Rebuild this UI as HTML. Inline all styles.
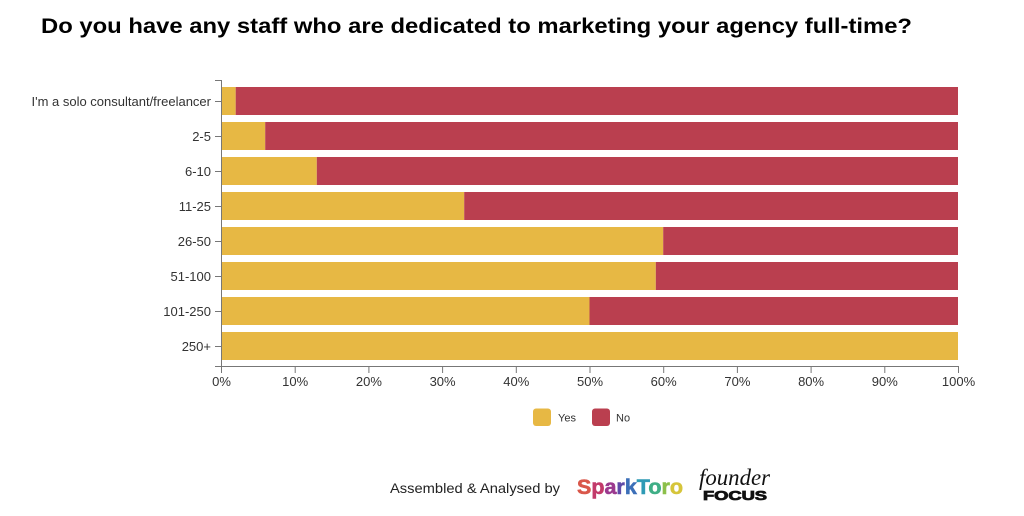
<!DOCTYPE html>
<html><head><meta charset="utf-8"><style>
html,body{margin:0;padding:0;background:#fff;}
svg{display:block;}
</style></head><body>
<svg width="1024" height="516" viewBox="0 0 1024 516" xmlns="http://www.w3.org/2000/svg" font-family="Liberation Sans, Arial, sans-serif">
<rect width="1024" height="516" fill="#fff"/>
<text x="41" y="33" font-size="21" font-weight="bold" fill="#000" textLength="871" lengthAdjust="spacingAndGlyphs">Do you have any staff who are dedicated to marketing your agency full-time?</text>

<g>
<rect x="221" y="87" width="14.7" height="28" fill="#E7B844"/><rect x="235.7" y="87" width="722.3" height="28" fill="#BA3F4F"/>
<rect x="221" y="122" width="44.2" height="28" fill="#E7B844"/><rect x="265.2" y="122" width="692.8" height="28" fill="#BA3F4F"/>
<rect x="221" y="157" width="95.8" height="28" fill="#E7B844"/><rect x="316.8" y="157" width="641.2" height="28" fill="#BA3F4F"/>
<rect x="221" y="192" width="243.2" height="28" fill="#E7B844"/><rect x="464.2" y="192" width="493.8" height="28" fill="#BA3F4F"/>
<rect x="221" y="227" width="442.2" height="28" fill="#E7B844"/><rect x="663.2" y="227" width="294.8" height="28" fill="#BA3F4F"/>
<rect x="221" y="262" width="434.8" height="28" fill="#E7B844"/><rect x="655.8" y="262" width="302.2" height="28" fill="#BA3F4F"/>
<rect x="221" y="297" width="368.5" height="28" fill="#E7B844"/><rect x="589.5" y="297" width="368.5" height="28" fill="#BA3F4F"/>
<rect x="221" y="332" width="737" height="28" fill="#E7B844"/>
</g>

<g stroke="#777" stroke-width="1" fill="none">
<path d="M215,80.5 H221.5 V366.5 H215"/>
<path d="M221.5,373 V366.5 H958.5 V373"/>
<path d="M215,101.5H221M215,136.5H221M215,171.5H221M215,206.5H221M215,241.5H221M215,276.5H221M215,311.5H221M215,346.5H221"/>
<path d="M295.2,367V373M368.9,367V373M442.6,367V373M516.3,367V373M590,367V373M663.7,367V373M737.4,367V373M811.1,367V373M884.8,367V373"/>
</g>

<g font-size="13" fill="#333" text-anchor="end">
<text x="211" y="106">I'm a solo consultant/freelancer</text>
<text x="211" y="141">2-5</text>
<text x="211" y="176">6-10</text>
<text x="211" y="211">11-25</text>
<text x="211" y="246">26-50</text>
<text x="211" y="281">51-100</text>
<text x="211" y="316">101-250</text>
<text x="211" y="351">250+</text>
</g>
<g font-size="13" fill="#333" text-anchor="middle">
<text x="221.5" y="386">0%</text>
<text x="295.2" y="386">10%</text>
<text x="368.9" y="386">20%</text>
<text x="442.6" y="386">30%</text>
<text x="516.3" y="386">40%</text>
<text x="590" y="386">50%</text>
<text x="663.7" y="386">60%</text>
<text x="737.4" y="386">70%</text>
<text x="811.1" y="386">80%</text>
<text x="884.8" y="386">90%</text>
<text x="958.5" y="386">100%</text>
</g>

<rect x="533" y="408.5" width="18" height="17.5" rx="3" fill="#E7B844"/>
<text x="558" y="421.5" font-size="11" fill="#333">Yes</text>
<rect x="592" y="408.5" width="18" height="17.5" rx="3" fill="#BA3F4F"/>
<text x="616" y="421.5" font-size="11" fill="#333">No</text>

<text x="390" y="493" font-size="14" fill="#222" textLength="170" lengthAdjust="spacingAndGlyphs">Assembled &amp; Analysed by</text>

<text x="577" y="494" font-size="21" font-weight="bold" textLength="106" lengthAdjust="spacingAndGlyphs" stroke-width="0.6"><tspan fill="#D9574A" stroke="#D9574A">S</tspan><tspan fill="#C23A6A" stroke="#C23A6A">p</tspan><tspan fill="#9B3A8F" stroke="#9B3A8F">a</tspan><tspan fill="#5F4BA8" stroke="#5F4BA8">r</tspan><tspan fill="#3C6FB8" stroke="#3C6FB8">k</tspan><tspan fill="#2E9AB5" stroke="#2E9AB5">T</tspan><tspan fill="#3FAE86" stroke="#3FAE86">o</tspan><tspan fill="#8CBF4A" stroke="#8CBF4A">r</tspan><tspan fill="#D6C53A" stroke="#D6C53A">o</tspan></text>

<text x="699" y="485" style="font-family:'Liberation Serif',serif;font-style:italic" font-size="23" fill="#111" textLength="71" lengthAdjust="spacingAndGlyphs">founder</text>
<text x="703" y="500" font-size="13" font-weight="bold" fill="#111" stroke="#111" stroke-width="0.8" textLength="64" lengthAdjust="spacingAndGlyphs">FOCUS</text>
</svg>
</body></html>
